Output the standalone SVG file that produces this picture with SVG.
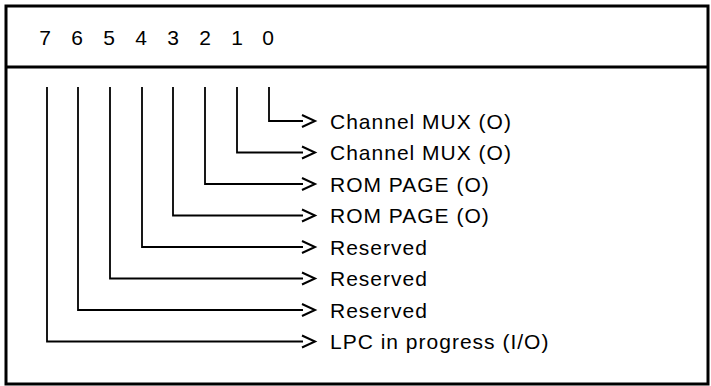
<svg xmlns="http://www.w3.org/2000/svg" width="711" height="386" viewBox="0 0 711 386">
<defs>
<style>
.frame{fill:#fff;stroke:#000;stroke-width:3}
.div{stroke:#000;stroke-width:3}
.wire{fill:none;stroke:#000;stroke-width:1.8}
.chev{fill:none;stroke:#000;stroke-width:2}
.bit{font-family:"Liberation Sans",Arial,sans-serif;font-size:21px;fill:#000;text-anchor:middle}
.lbl{font-family:"Liberation Sans",Arial,sans-serif;font-size:21px;letter-spacing:1px;fill:#000}
</style>
</defs>
<rect width="711" height="386" fill="#fff"/>
<g id="register">
<rect class="frame" x="6" y="6" width="702" height="378"/>
<line class="div" x1="6" y1="67" x2="708" y2="67"/>
</g>
<g id="bits">
<text class="bit" x="45" y="45">7</text>
<text class="bit" x="77" y="45">6</text>
<text class="bit" x="109" y="45">5</text>
<text class="bit" x="141" y="45">4</text>
<text class="bit" x="173" y="45">3</text>
<text class="bit" x="205" y="45">2</text>
<text class="bit" x="237" y="45">1</text>
<text class="bit" x="268" y="45">0</text>
</g>
<g id="connectors">
<polyline class="wire" points="269,87 269,121 303,121"/>
<polyline class="wire" points="237,87 237,152.5 303,152.5"/>
<polyline class="wire" points="205,87 205,184 303,184"/>
<polyline class="wire" points="173,87 173,215.5 303,215.5"/>
<polyline class="wire" points="142,87 142,247 303,247"/>
<polyline class="wire" points="110,87 110,278.5 303,278.5"/>
<polyline class="wire" points="78,87 78,310 303,310"/>
<polyline class="wire" points="47,87 47,341.5 303,341.5"/>
<polyline class="chev" points="302,115 315,121 302,127"/>
<polyline class="chev" points="302,146.5 315,152.5 302,158.5"/>
<polyline class="chev" points="302,178 315,184 302,190"/>
<polyline class="chev" points="302,209.5 315,215.5 302,221.5"/>
<polyline class="chev" points="302,241 315,247 302,253"/>
<polyline class="chev" points="302,272.5 315,278.5 302,284.5"/>
<polyline class="chev" points="302,304 315,310 302,316"/>
<polyline class="chev" points="302,335.5 315,341.5 302,347.5"/>
</g>
<g id="labels">
<text class="lbl" x="330" y="128.5">Channel MUX (O)</text>
<text class="lbl" x="330" y="160">Channel MUX (O)</text>
<text class="lbl" x="330" y="191.5">ROM PAGE (O)</text>
<text class="lbl" x="330" y="223">ROM PAGE (O)</text>
<text class="lbl" x="330" y="254.5">Reserved</text>
<text class="lbl" x="330" y="286">Reserved</text>
<text class="lbl" x="330" y="317.5">Reserved</text>
<text class="lbl" x="330" y="349">LPC in progress (I/O)</text>
</g>
</svg>
